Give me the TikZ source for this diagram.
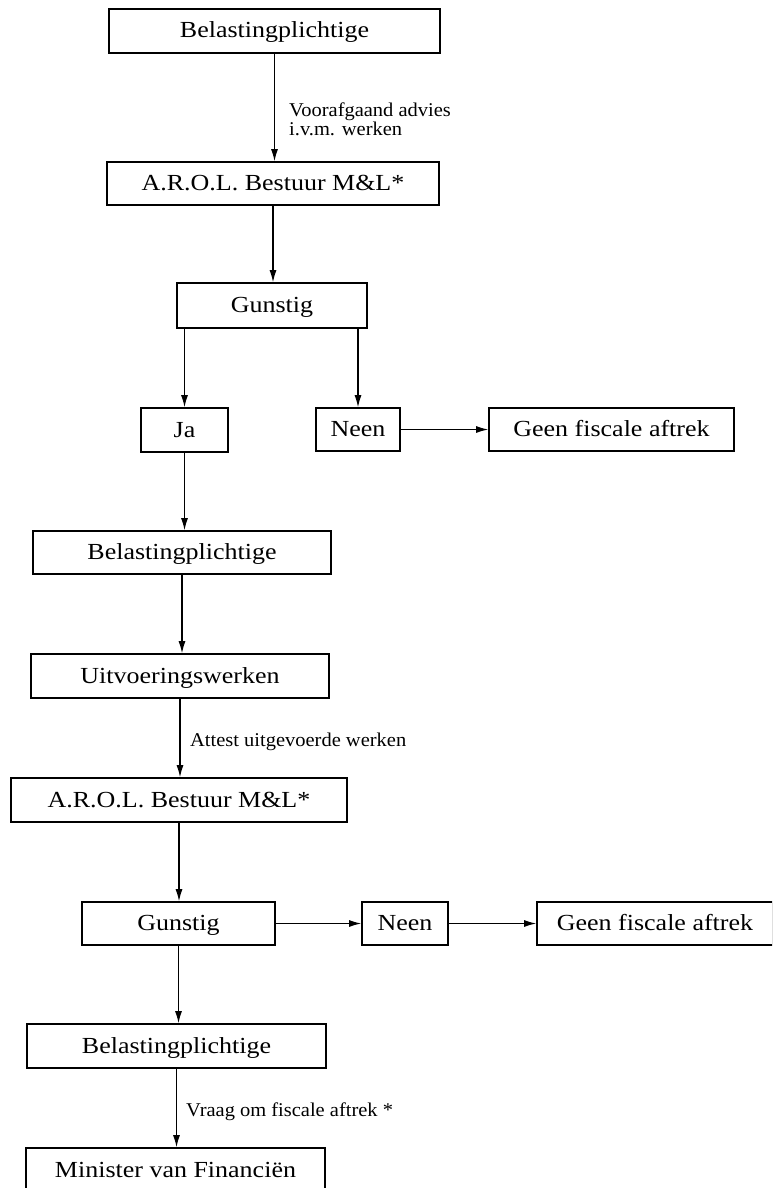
\documentclass[tikz,border=0pt]{standalone}
\usepackage{fontspec}
\setmainfont{Liberation Serif}
\newfontfamily\boxfont[FakeStretch=1.13]{Liberation Serif}
\newfontfamily\labfont[FakeStretch=1.05]{Liberation Serif}
\usetikzlibrary{arrows.meta}

\begin{document}
\begin{tikzpicture}[x=1pt,y=-1pt,
 box/.style={draw, line width=1.6pt, inner sep=0pt,
   font=\boxfont\fontsize{23}{27}\selectfont, text height=16pt, text depth=2pt},
 conn/.style={line width=1.2pt, -{Latex[length=12pt,width=7pt]}},
 lab/.style={font=\labfont\fontsize{19.5}{17}\selectfont, inner sep=0pt, align=left, anchor=west}]
\useasboundingbox (0,0) rectangle (772,1188);
\clip (0,0) rectangle (772,1188);

\node[box, minimum width=331pt, minimum height=44pt] (b1) at (274.5,31) {Belastingplichtige};
\node[box, minimum width=332pt, minimum height=43pt] (a1) at (273,183.5) {A.R.O.L. Bestuur M\&L*};
\node[box, minimum width=190pt, minimum height=45pt] (g1) at (272,305.5) {Gunstig};
\node[box, minimum width=87pt, minimum height=44pt] (ja) at (184.5,430) {Ja};
\node[box, minimum width=84pt, minimum height=43pt] (n1) at (358,429.5) {Neen};
\node[box, minimum width=245pt, minimum height=43pt] (gf1) at (611.5,429.5) {Geen fiscale aftrek};
\node[box, minimum width=298pt, minimum height=43pt] (b2) at (182,552.5) {Belastingplichtige};
\node[box, minimum width=298pt, minimum height=44pt] (u) at (180,676) {Uitvoeringswerken};
\node[box, minimum width=336pt, minimum height=44pt] (a2) at (179,800) {A.R.O.L. Bestuur M\&L*};
\node[box, minimum width=193pt, minimum height=43pt] (g2) at (178.5,923.5) {Gunstig};
\node[box, minimum width=86pt, minimum height=43pt] (n2) at (405,923.5) {Neen};
\node[box, minimum width=236pt, minimum height=43pt] (gf2) at (655,923.5) {Geen fiscale aftrek};
\node[box, minimum width=299pt, minimum height=44pt] (b3) at (176.5,1046) {Belastingplichtige};
\node[box, minimum width=299pt, minimum height=44pt] (m) at (175.5,1170) {Minister van Financiën};

\draw[conn] (b1.south) -- (b1.south |- a1.north);
\draw[conn] (a1.south) -- (a1.south |- g1.north);
\draw[conn] (g1.south -| ja.north) -- (ja.north);
\draw[conn] (g1.south -| n1.north) -- (n1.north);
\draw[conn] (n1.east) -- (gf1.west);
\draw[conn] (ja.south) -- (ja.south |- b2.north);
\draw[conn] (b2.south) -- (b2.south |- u.north);
\draw[conn] (u.south) -- (u.south |- a2.north);
\draw[conn] (a2.south) -- (a2.south |- g2.north);
\draw[conn] (g2.east) -- (n2.west);
\draw[conn] (n2.east) -- (gf2.west);
\draw[conn] (g2.south) -- (g2.south |- b3.north);
\draw[conn] (b3.south) -- (b3.south |- m.north);

\node[lab] (l1) at (289,119) {Voorafgaand advies\\i.v.m. werken};
\node[lab] (l2) at (190,742) {Attest uitgevoerde werken};
\node[lab] (l3) at (186,1112) {Vraag om fiscale aftrek *};
\end{tikzpicture}
\end{document}
